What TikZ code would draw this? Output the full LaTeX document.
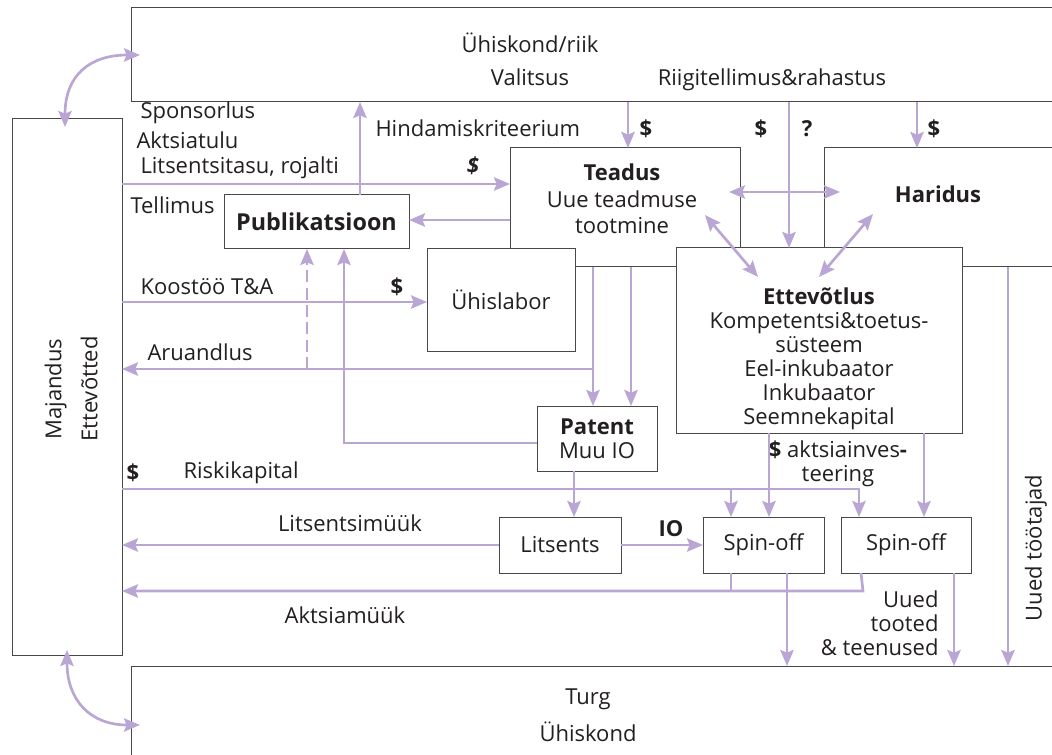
\documentclass[tikz,border=0pt]{standalone}
\usepackage{fontspec}
\setmainfont{Open Sans}
\usetikzlibrary{arrows.meta,calc}

\definecolor{lilla}{RGB}{186,166,212}
\definecolor{raam}{RGB}{72,72,72}
\definecolor{tekst}{RGB}{35,31,32}

\newcommand{\kiri}{\fontsize{16.5}{18}\selectfont}

\tikzset{every picture/.style={line width=0.75pt}}
\tikzset{
  kast/.style={draw=raam, fill=white, inner sep=0pt, outer sep=0pt, align=center, text=tekst},
  silt/.style={inner sep=0pt, text=tekst},
  paks/.style={silt, font=\kiri\bfseries},
  voog/.style={draw=lilla, line width=2pt, -{Stealth[length=12pt,width=10pt,inset=2pt]}},
  kahevoog/.style={draw=lilla, line width=2pt, {Stealth[length=12pt,width=10pt,inset=2pt]}-{Stealth[length=12pt,width=10pt,inset=2pt]}},
  joon/.style={draw=lilla, line width=2pt},
}

\begin{document}
\begin{tikzpicture}[x=0.75pt,y=0.75pt,yscale=-1,xscale=1,font=\kiri]
\useasboundingbox (0,0) rectangle (1052,755);
\clip (0,0) rectangle (1052,755);

%Shape: Rectangle (outer boxes)
\node[kast, minimum width=704.25pt, minimum height=70.5pt] (riik) at (600.5,55) {};
\node[kast, minimum width=82.5pt, minimum height=402pt] (majandus) at (67,387) {};
\node[kast, minimum width=704.25pt, minimum height=100.5pt] (turg) at (600.5,733) {};

%Shape: Rectangle (Teadus, Haridus)
\node[kast, minimum width=172.5pt, minimum height=89.25pt] (teadus) at (625,207.5) {};
\node[kast, minimum width=184.5pt, minimum height=89.25pt] (haridus) at (947,207.5) {};

%Shape: Rectangle (inner boxes)
\node[kast, minimum width=138.75pt, minimum height=40.5pt, font=\fontsize{17.5}{18}\selectfont\bfseries] (publ) at (316.5,222) {Publikatsioon};
\node[kast, minimum width=111pt, minimum height=76.5pt] (yhislabor) at (501,300) {Ühislabor};
\node[kast, minimum width=214.5pt, minimum height=138.75pt] (ettev) at (819,340.5) {};
\node[kast, minimum width=90pt, minimum height=48.75pt] (patent) at (597,438.5) {\textbf{Patent}\\Muu IO};
\node[kast, minimum width=91.5pt, minimum height=42pt] (litsents) at (560,545) {Litsents};
\node[kast, minimum width=90.75pt, minimum height=42pt] (spin1) at (763.5,545) {Spin-off};
\node[kast, minimum width=97.5pt, minimum height=42pt] (spin2) at (906,545) {Spin-off};

% Text Node
\node[silt] (riiktekst) at (530,43) {Ühiskond/riik};
\node[silt] (valitsus) at (530,77) {Valitsus};
\node[silt] (riigitellimus) at (772,80) {Riigitellimus\&rahastus};
\node[silt, align=center] (teadustekst) at (622,199) {\textbf{Teadus}\\[2pt]Uue teadmuse\\[2pt]tootmine};
\node[paks] (haridustekst) at (938,194) {Haridus};
\node[silt, align=center] (ettevtekst) at (819,359) {\textbf{Ettevõtlus}\\Kompetentsi\&toetus-\\süsteem\\Eel-inkubaator\\Inkubaator\\Seemnekapital};
\node[silt, align=center, rotate=90] (majandustekst) at (71,389) {Majandus\\[9pt]Ettevõtted};
\node[silt, align=center] (turgtekst) at (588,715) {Turg\\[8pt]Ühiskond};
\node[silt, rotate=90] (tootajad) at (1036,548) {Uued töötajad};

% Text Node (labels on the left)
\node[silt, anchor=west] (sponsorlus) at (140,113) {Sponsorlus};
\node[silt, anchor=west] (aktsiatulu) at (136,140) {Aktsiatulu};
\node[silt, anchor=west] (litsentsitasu) at (140,168) {Litsentsitasu, rojalti};
\node[silt, anchor=west] (tellimus) at (130,205) {Tellimus};
\node[silt, anchor=west] (hindamine) at (375,128) {Hindamiskriteerium};
\node[silt, anchor=west] (koostoo) at (140,287) {Koostöö T\&A};
\node[silt, anchor=west] (aruandlus) at (147,352) {Aruandlus};
\node[silt, anchor=west] (riskikapital) at (183,473) {Riskikapital};
\node[silt] (litsentsimyyk) at (350,523) {Litsentsimüük};
\node[silt] (aktsiamyyk) at (345,615) {Aktsiamüük};
\node[silt, align=center] (aktsiainv) at (838,464) {\textbf{\$} aktsiainves\textbf{-}\\teering};
\node[silt, align=right, anchor=east] (tooted) at (939,623) {Uued\\tooted\\\& teenused};

% Text Node ($ and ?)
\node[paks, font=\kiri\bfseries\itshape] (raha1) at (473,166) {\$};
\node[paks] (raha2) at (646,129) {\$};
\node[paks] (raha3) at (761,129) {\$};
\node[paks] (kysimus) at (807,129) {?};
\node[paks] (raha4) at (934,129) {\$};
\node[paks] (raha5) at (397,287) {\$};
\node[paks] (raha6) at (133,473) {\$};
\node[paks] (io) at (671,529) {IO};

% connectors at the top
\draw[voog] (majandus.east |- 0,184) -- (teadus.west |- 0,184);
\draw[voog] (teadus.west |- 0,220) -- (publ.east |- 0,220);
\draw[voog] (360,0 |- publ.north) -- (360,0 |- riik.south);
\draw[voog] (628,0 |- riik.south) -- (628,0 |- teadus.north);
\draw[voog] (789,0 |- riik.south) -- (789,0 |- ettev.north);
\draw[voog] (917,0 |- riik.south) -- (917,0 |- haridus.north);
\draw[kahevoog] ($(teadus.east |- 0,192)+(-11,0)$) -- ($(haridus.west |- 0,192)+(16,0)$);
\draw[kahevoog] ($(teadus.east)+(-35,7.5)$) -- ($(ettev.north west)+(82,29)$);
\draw[kahevoog] ($(haridus.west)+(49,6.5)$) -- ($(ettev.north west)+(143,29)$);

% Majandus <-> riik, turg
\draw[kahevoog] ($(majandus.north)+(-2,8)$) .. controls (65,75) and (90,55) .. ($(riik.west)+(9,0)$);
\draw[kahevoog] ($(majandus.south)+(0,-5)$) .. controls (67,700) and (90,725) .. ($(turg.west)+(9,-8)$);

% connectors in the middle
\draw[voog] (majandus.east |- 0,302) -- (yhislabor.west |- 0,302);
\draw[voog] (593,0 |- teadus.south) -- (593,0 |- patent.north);
\draw[voog] (631,0 |- teadus.south) -- (631,0 |- patent.north);
\draw[voog] (593,369) -- (majandus.east |- 0,369);
\draw[voog, dash pattern=on 9pt off 4pt] (307,369) -- (307,0 |- publ.south);
\draw[voog] (patent.west |- 0,443) -- (344,443) -- (344,0 |- publ.south);

% Riskikapital
\draw[voog] (majandus.east |- 0,489) -- (859,489) -- (859,0 |- spin2.north);
\draw[voog] (731,489) -- (731,0 |- spin1.north);
\draw[voog] (574,0 |- patent.south) -- (574,0 |- litsents.north);
\draw[voog] (769,0 |- ettev.south) -- (769,0 |- spin1.north);
\draw[voog] (924,0 |- ettev.south) -- (924,0 |- spin2.north);

% connectors at the bottom
\draw[voog] (litsents.west) -- (majandus.east |- litsents.west);
\draw[voog] (litsents.east) -- (spin1.west);
\draw[joon] (731,0 |- spin1.south) -- (731,591);
\draw[voog] (861,0 |- spin2.south) -- (863,591) -- (majandus.east |- 0,591);
\draw[voog] (787,0 |- spin1.south) -- (787,0 |- turg.north);
\draw[voog] (954,0 |- spin2.south) -- (954,0 |- turg.north);
\draw[voog] (1008,0 |- haridus.south) -- (1008,0 |- turg.north);

\end{tikzpicture}
\end{document}
